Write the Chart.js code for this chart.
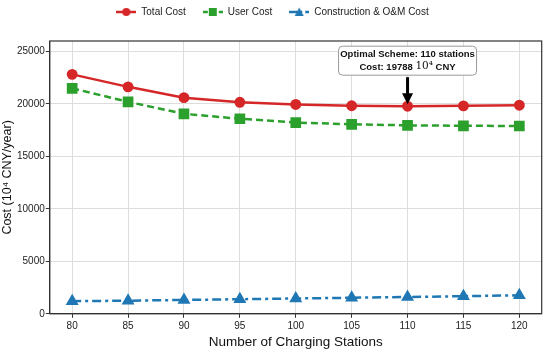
<!DOCTYPE html>
<html>
<head>
<meta charset="utf-8">
<script src="https://cdn.jsdelivr.net/npm/chart.js@4.4.1/dist/chart.umd.min.js"></script>
<style>
  html, body { margin: 0; padding: 0; background: #fff; }
  #wrap { width: 550px; height: 349px; }
</style>
</head>
<body>
<div id="wrap"><canvas id="c"></canvas></div>
<script>
// ── data ──
const stations = [80, 85, 90, 95, 100, 105, 110, 115, 120];
const totalCost = [22820, 21630, 20600, 20160, 19950, 19830, 19788, 19820, 19880];
const userCost = [21490, 20200, 19060, 18590, 18230, 18060, 17960, 17920, 17900];
const buildCost = [1200, 1250, 1320, 1390, 1460, 1530, 1600, 1680, 1760];
const yTicks = [0, 5000, 10000, 15000, 20000, 25000];

const RED = '#d62728', GREEN = '#2ca02c', BLUE = '#1f77b4';
const FONT = "'Liberation Sans', Arial, sans-serif";

// legend swatch: short line with marker in the middle
function swatch(color, style, dash) {
  const cv = document.createElement('canvas');
  cv.width = 20; cv.height = 12;
  const g = cv.getContext('2d');
  g.strokeStyle = color; g.fillStyle = color; g.lineWidth = 2.5;
  g.setLineDash(dash);
  g.beginPath(); g.moveTo(0, 6); g.lineTo(20, 6); g.stroke();
  g.setLineDash([]);
  g.beginPath();
  if (style === 'circle') g.arc(10, 6, 4, 0, Math.PI * 2);
  else if (style === 'rect') g.rect(6, 2, 8, 8);
  else { g.moveTo(10, 1.5); g.lineTo(14.5, 10); g.lineTo(5.5, 10); g.closePath(); }
  g.fill();
  return cv;
}

// extra gap under the legend (legend has no margin option)
const legendGap = {
  id: 'legendGap',
  afterInit(chart) {
    const lg = chart.legend;
    const fit = lg.fit.bind(lg);
    lg.fit = () => { fit(); lg.height += 14; };
  }
};

// frame round the plot + annotation box and arrow
const extras = {
  id: 'extras',
  afterDraw(chart) {
    const { ctx, chartArea: a, scales: { x, y } } = chart;
    ctx.save();
    ctx.strokeStyle = '#333'; ctx.lineWidth = 1.2;
    ctx.strokeRect(a.left, a.top, a.right - a.left, a.bottom - a.top);

    // arrow pointing at the optimum
    const i = 6;
    const px = x.getPixelForValue(stations[i]);
    const tip = y.getPixelForValue(totalCost[i]) - 2;
    const top = tip - 27;
    ctx.fillStyle = '#000';
    ctx.fillRect(px - 1.5, top, 3, 19);
    ctx.beginPath();
    ctx.moveTo(px - 5.5, top + 16); ctx.lineTo(px + 5.5, top + 16); ctx.lineTo(px, tip);
    ctx.closePath(); ctx.fill();

    // rounded box
    const bw = 138, bh = 29, bx = px - bw / 2, by = top - bh - 2;
    ctx.beginPath();
    ctx.roundRect(bx, by, bw, bh, 4);
    ctx.fillStyle = '#fff'; ctx.fill();
    ctx.strokeStyle = '#999'; ctx.lineWidth = 1; ctx.stroke();

    ctx.fillStyle = '#111';
    ctx.textBaseline = 'middle'; ctx.textAlign = 'center';
    ctx.font = 'bold 9.5px ' + FONT;
    ctx.fillText('Optimal Scheme: ' + stations[i] + ' stations', px, by + 8.5);
    // second line: bold parts + plain 10^4
    const p1 = 'Cost: ' + Math.round(totalCost[i]) + ' ', p2 = '10⁴', p3 = ' CNY';
    const fb = 'bold 9.5px ' + FONT, fn = "10.5px 'DejaVu Serif', serif";
    ctx.font = fb; const w1 = ctx.measureText(p1).width, w3 = ctx.measureText(p3).width;
    ctx.font = fn; const w2 = ctx.measureText(p2).width;
    const sx = px - (w1 + w2 + w3) / 2;
    ctx.textAlign = 'left';
    ctx.font = fb; ctx.fillText(p1, sx, by + 21);
    ctx.font = fn; ctx.fillText(p2, sx + w1, by + 20.5);
    ctx.font = fb; ctx.fillText(p3, sx + w1 + w2, by + 21);
    ctx.restore();
  }
};

new Chart(document.getElementById('c'), {
  type: 'line',
  data: {
    labels: stations,
    datasets: [
      {
        label: 'Total Cost', data: totalCost,
        borderColor: RED, backgroundColor: RED, borderWidth: 2.5,
        pointStyle: 'circle', pointRadius: 4.2, pointHoverRadius: 4.2,
        legendImg: swatch(RED, 'circle', [])
      },
      {
        label: 'User Cost', data: userCost,
        borderColor: GREEN, backgroundColor: GREEN, borderWidth: 2.5, borderDash: [7, 4],
        pointStyle: 'rect', pointRadius: 5.8, pointHoverRadius: 5.8,
        legendImg: swatch(GREEN, 'rect', [5, 3])
      },
      {
        label: 'Construction & O&M Cost', data: buildCost,
        borderColor: BLUE, backgroundColor: BLUE, borderWidth: 2.5, borderDash: [9, 4, 3, 4],
        pointStyle: 'triangle', pointRadius: 5, pointHoverRadius: 5,
        legendImg: swatch(BLUE, 'triangle', [8, 3, 2, 3])
      }
    ].map(d => ({ ...d, tension: 0, fill: false }))
  },
  options: {
    responsive: true, maintainAspectRatio: false, animation: false,
    layout: { padding: { top: -10, right: 5, left: 0, bottom: -1 } },
    plugins: {
      legend: {
        position: 'top',
        labels: {
          font: { family: FONT, size: 10 }, color: '#222', padding: 17,
          usePointStyle: true, pointStyleWidth: 20,
          generateLabels: chart => chart.data.datasets.map((d, i) => ({
            text: d.label, pointStyle: d.legendImg, datasetIndex: i,
            fillStyle: d.borderColor, strokeStyle: d.borderColor, lineWidth: 0, fontColor: '#222'
          }))
        }
      },
      tooltip: { enabled: false }
    },
    scales: {
      x: {
        type: 'linear', min: 78, max: 122,
        afterBuildTicks: s => { s.ticks = stations.map(v => ({ value: v })); },
        grid: { color: '#dddddd', tickColor: '#333', tickLength: 4 },
        border: { color: '#333' },
        ticks: { font: { family: FONT, size: 10 }, color: '#222', padding: 2, callback: v => String(v) },
        title: { display: true, text: 'Number of Charging Stations', font: { family: FONT, size: 13.5 }, color: '#111', padding: { top: 0, bottom: 0 } }
      },
      y: {
        min: 0, max: 26000,
        afterBuildTicks: s => { s.ticks = yTicks.map(v => ({ value: v })); },
        grid: { color: '#dddddd', tickColor: '#333', tickLength: 4 },
        border: { color: '#333' },
        ticks: { font: { family: FONT, size: 10 }, color: '#222', padding: 1, callback: v => String(v) },
        title: { display: true, text: 'Cost (10⁴ CNY/year)', font: { family: FONT, size: 12.5 }, color: '#111', padding: { top: 0, bottom: 1 } }
      }
    }
  },
  plugins: [legendGap, extras]
});
</script>
</body>
</html>
